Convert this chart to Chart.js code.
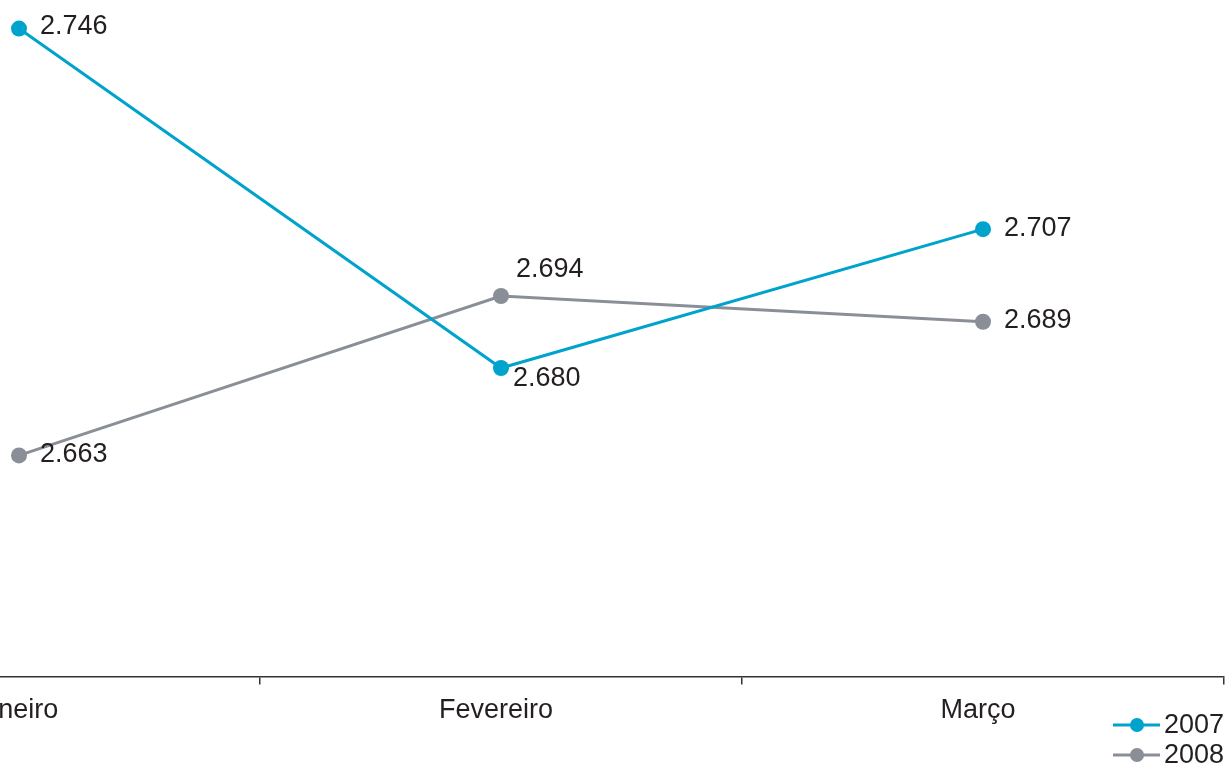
<!DOCTYPE html>
<html>
<head>
<meta charset="utf-8">
<script src="https://cdn.jsdelivr.net/npm/chart.js@4/dist/chart.umd.min.js"></script>
<style>
  html, body { margin: 0; padding: 0; background: #fff; overflow: hidden; }
  #wrap { position: absolute; left: -300px; top: 0; width: 1532px; height: 767px; }
</style>
</head>
<body>
<div id="wrap"><canvas id="chart"></canvas></div>
<script>
// Dados (milhares)
const MESES = ['Janeiro', 'Fevereiro', 'Março'];
const SERIE_2007 = [2746, 2680, 2707];
const SERIE_2008 = [2663, 2694, 2689];
const ANOS = ['2007', '2008'];

const COR_2007 = 'rgb(0, 163, 204)';
const COR_2008 = 'rgb(138, 143, 151)';
const COR_TEXTO = '#231f20';
const FONTE = '"Liberation Sans", Arial, sans-serif';

function fmt(v) {
    return v.toLocaleString('pt-BR');
}

// onde fica o rótulo de cada ponto (dx, dy relativos ao ponto)
const OFFSETS = [
    [[21, -2], [12, 11], [21, -1]],
    [[21, -1], [15, -26], [21, -1]]
];

const rotulos = {
    id: 'rotulos',
    afterDatasetsDraw(chart) {
        const ctx = chart.ctx;
        ctx.save();
        ctx.font = '27px ' + FONTE;
        ctx.fillStyle = COR_TEXTO;
        ctx.textBaseline = 'middle';
        ctx.textAlign = 'left';
        chart.data.datasets.forEach((ds, i) => {
            const meta = chart.getDatasetMeta(i);
            meta.data.forEach((pt, j) => {
                const off = OFFSETS[i][j];
                ctx.fillText(fmt(ds.data[j]), pt.x + off[0], pt.y + off[1]);
            });
        });

        // legenda no canto inferior direito
        const right = chart.width - 8;
        chart.data.datasets.forEach((ds, i) => {
            const y = 725 + i * 30;
            ctx.strokeStyle = ds.borderColor;
            ctx.lineWidth = 3;
            ctx.beginPath();
            ctx.moveTo(right - 111, y);
            ctx.lineTo(right - 64, y);
            ctx.stroke();
            ctx.fillStyle = ds.borderColor;
            ctx.beginPath();
            ctx.arc(right - 87, y, 7, 0, Math.PI * 2);
            ctx.fill();
            ctx.fillStyle = COR_TEXTO;
            ctx.textAlign = 'right';
            ctx.fillText(ds.label, right, y + 1);
        });
        ctx.restore();
    }
};

new Chart(document.getElementById('chart'), {
    type: 'line',
    data: {
        labels: MESES,
        datasets: [
            { label: ANOS[0], data: SERIE_2007, borderColor: COR_2007, backgroundColor: COR_2007 },
            { label: ANOS[1], data: SERIE_2008, borderColor: COR_2008, backgroundColor: COR_2008 }
        ]
    },
    options: {
        responsive: true,
        maintainAspectRatio: false,
        animation: false,
        layout: { padding: { left: 78, right: 2, top: 5, bottom: 30 } },
        elements: {
            line: { borderWidth: 3, tension: 0 },
            point: { radius: 8, hoverRadius: 8, borderWidth: 0 }
        },
        plugins: { legend: { display: false }, tooltip: { enabled: false } },
        scales: {
            x: {
                offset: true,
                grid: { offset: true, drawOnChartArea: false, drawTicks: true, tickLength: 8, color: '#333', lineWidth: 1.5 },
                border: { display: true, color: '#333', width: 1.5 },
                ticks: { color: COR_TEXTO, font: { size: 27, family: FONTE }, padding: 10, labelOffset: -5, maxRotation: 0 }
            },
            y: {
                display: false,
                min: 2620,
                max: 2750
            }
        }
    },
    plugins: [rotulos]
});
</script>
</body>
</html>
